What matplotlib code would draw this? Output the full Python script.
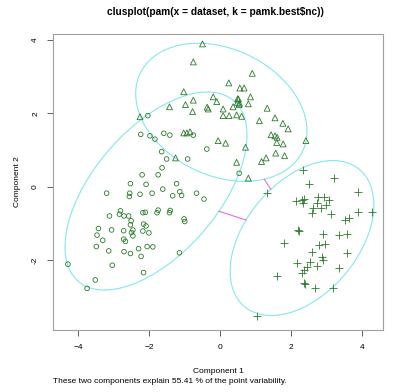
import numpy as np
import matplotlib
matplotlib.use('Agg')
import matplotlib.pyplot as plt
from matplotlib.patches import Ellipse

plt.rcParams['font.family'] = ['Liberation Sans', 'DejaVu Sans']

# cluster 1 (circles)
c1_x = [-2.03, -2.23, -1.97, -1.83, -1.58, -1.41, -0.75, -1.64, -1.50, -0.91, -0.37, -1.63,
        -2.19, -1.74, -2.52, -2.08, -1.22, -3.19, -2.54, -2.55, -2.25, -1.91, -1.61, -1.33,
        -1.13, -1.08, -0.66, -0.45, 0.54, -2.80, -2.83, -2.70, -2.57, -3.11, -2.17, -2.10,
        -1.74, -1.77, -1.40, -1.42, -1.01, -0.99, -2.50, -2.52, -2.15, -2.08, -3.42, -3.05,
        -2.71, -2.45, -2.49, -2.17, -2.00, -3.46, -2.45, -3.30, -2.71, -2.66, -3.48, -3.13,
        -2.70, -2.52, -2.29, -2.05, -1.89, -2.22, -1.14, -4.28, -3.03, -2.15, -3.51, -3.74]
c1_y = [1.94, 1.43, 1.39, 1.30, 1.46, 1.41, 1.41, 0.96, 0.76, 0.76, 1.03, 0.52,
        0.33, 0.33, 0.09, 0.07, 0.09, -0.17, -0.17, -0.26, -0.20, -0.17, -0.06, -0.24,
        -0.13, -0.23, -0.17, -0.33, 0.37, -0.65, -0.74, -0.79, -0.79, -0.79, -0.70, -0.69,
        -0.63, -0.70, -0.64, -0.70, -0.87, -0.94, -0.92, -1.03, -1.01, -1.06, -1.13, -1.17,
        -1.19, -1.17, -1.24, -1.20, -1.25, -1.31, -1.33, -1.45, -1.42, -1.48, -1.62, -1.74,
        -1.76, -1.81, -1.68, -1.62, -1.63, -1.89, -1.79, -2.10, -2.13, -2.33, -2.53, -2.76]

# cluster 2 (triangles)
c2_x = [-0.49, -0.75, 0.91, 0.25, 0.56, 0.68, -1.02, -0.75, -0.19, -0.09, 0.52, 0.86,
        0.49, 0.54, 0.37, 0.80, 1.33, -0.36, -0.97, -1.42, -0.77, 0.09, 0.09, 0.26,
        0.47, 0.61, 1.55, 1.11, 1.77, 1.92, 1.44, 1.55, 1.61, 1.60, 1.78, 2.42,
        -0.05, 0.16, 0.72, 1.57, 1.82, 1.30, 1.17, 0.47, -2.25, -1.02, -0.93, -0.84,
        -1.25, 0.80, 0.50, 0.55, -0.33]
c2_y = [3.89, 3.40, 3.09, 2.83, 2.69, 2.69, 2.59, 2.36, 2.45, 2.32, 2.39, 2.45,
        2.30, 2.24, 2.18, 2.26, 2.14, 2.17, 2.24, 2.18, 2.05, 2.12, 1.94, 1.94,
        1.96, 1.92, 1.88, 1.80, 1.73, 1.58, 1.42, 1.39, 1.35, 1.21, 1.17, 1.26,
        1.26, 1.19, 1.08, 0.92, 0.85, 0.79, 0.69, 0.67, 1.91, 1.47, 1.47, 1.50,
        0.79, 0.24, 2.40, 2.28, 2.12]

# cluster 3 (pluses)
c3_x = [2.35, 3.21, 2.52, 1.32, 3.90, 2.14, 2.30, 2.35, 2.37, 2.75, 2.93, 3.08,
        2.72, 2.99, 2.84, 2.61, 2.58, 3.12, 3.90, 4.27, 3.52, 3.64, 2.21, 2.23,
        2.91, 3.36, 3.57, 1.80, 2.79, 2.96, 2.58, 3.59, 2.86, 2.89, 2.54, 2.18,
        2.74, 2.44, 2.37, 2.30, 3.35, 1.61, 2.37, 2.39, 2.68, 3.19, 1.03]
c3_y = [0.46, 0.25, 0.08, -0.17, -0.15, -0.37, -0.35, -0.43, -0.33, -0.28, -0.26, -0.35,
        -0.43, -0.49, -0.56, -0.56, -0.71, -0.73, -0.67, -0.67, -0.90, -0.85, -1.17, -1.19,
        -1.28, -1.31, -1.28, -1.53, -1.58, -1.56, -1.76, -1.80, -1.91, -2.00, -2.03, -2.07,
        -2.15, -2.18, -2.26, -2.35, -2.21, -2.42, -2.60, -2.64, -2.75, -2.76, -3.51]

# ellipses: center, semi-axes, angle (deg)
ell_cx = [-1.80, 0.04, 2.31]
ell_cy = [-0.11, 2.03, -1.39]
ell_a = [3.29, 2.52, 2.47]
ell_b = [1.73, 1.73, 1.56]
ell_ang = [47.5, -23.5, 47.7]
# cluster pairs joined by a line
pairs = [(0, 2), (1, 2)]

pt_col = '#2b7a2b'
ell_col = '#86e6ec'


def edge_dist(k, d):
    # distance from ellipse k center to its edge along unit direction d
    t = np.deg2rad(ell_ang[k])
    u = d[0] * np.cos(t) + d[1] * np.sin(t)
    v = -d[0] * np.sin(t) + d[1] * np.cos(t)
    return 1.0 / np.sqrt((u / ell_a[k]) ** 2 + (v / ell_b[k]) ** 2)


fig = plt.figure(figsize=(4.02, 3.92), dpi=100)
ax = fig.add_axes([0.1318, 0.1582, 0.8209, 0.7551])

for k in range(3):
    ax.add_patch(Ellipse((ell_cx[k], ell_cy[k]), 2 * ell_a[k], 2 * ell_b[k],
                         angle=ell_ang[k], fill=False, edgecolor=ell_col, lw=0.8))

for i, j in pairs:
    p = np.array([ell_cx[i], ell_cy[i]])
    q = np.array([ell_cx[j], ell_cy[j]])
    d = (q - p) / np.linalg.norm(q - p)
    s = p + d * edge_dist(i, d)
    e = q - d * edge_dist(j, -d)
    ax.plot([s[0], e[0]], [s[1], e[1]], color='#e070e0', lw=0.8)

ax.scatter(c1_x, c1_y, s=11, facecolors='none', edgecolors=pt_col, linewidths=0.6, marker='o')
ax.scatter(c2_x, c2_y, s=18, facecolors='none', edgecolors=pt_col, linewidths=0.6, marker='^')
ax.scatter(c3_x, c3_y, s=26, c=pt_col, linewidths=0.6, marker='+')

ax.set_xlim(-4.70, 4.59)
ax.set_ylim(-3.89, 4.16)
ax.set_xticks([-4, -2, 0, 2, 4])
ax.set_yticks([-2, 0, 2, 4])
ax.set_yticklabels(['-2', '0', '2', '4'], rotation=90, va='center')
ax.tick_params(labelsize=6, length=4, width=0.6, color='#444444', pad=6)
for sp in ax.spines.values():
    sp.set_color('#a0a0a0')
    sp.set_linewidth(0.8)

ax.set_xlabel('Component 1', fontsize=6, labelpad=12)
ax.set_ylabel('Component 2', fontsize=6, labelpad=8)
fig.text(0.536, 0.97, 'clusplot(pam(x = dataset, k = pamk.best$nc))', fontsize=7.3,
         fontweight='bold', ha='center', va='center')
fig.text(0.132, 0.026, 'These two components explain 55.41 % of the point variability.',
         fontsize=6, ha='left', va='center')

plt.savefig('out.png', dpi=100)
